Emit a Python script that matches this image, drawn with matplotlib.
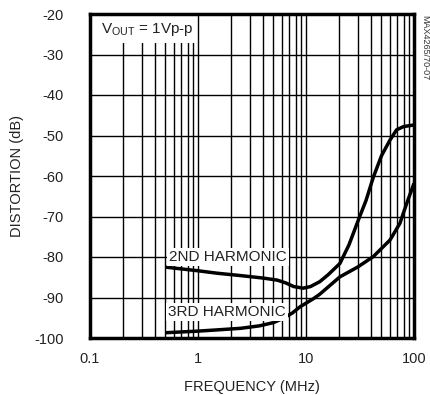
import numpy as np
import matplotlib
matplotlib.use("Agg")
import matplotlib.pyplot as plt
from matplotlib.patches import Rectangle

plt.rcParams['font.family'] = ['Liberation Sans', 'DejaVu Sans']
plt.rcParams['mathtext.fontset'] = 'custom'
plt.rcParams['mathtext.rm'] = 'Liberation Sans'

# 2nd harmonic distortion vs frequency
freq_h2 = [0.5, 1.0, 1.5, 2.5, 4.0, 5.4, 6.5, 7.7, 9.4, 11.0, 13.4, 16.0,
           20.6, 25.0, 30.5, 36.0, 42.0, 50.0, 60.0, 69.0, 80.0, 100.0]
dist_h2 = [-82.5, -83.4, -84.0, -84.6, -85.2, -85.7, -86.4, -87.3, -87.7, -87.3, -86.1, -84.4,
           -81.6, -77.0, -70.9, -66.0, -60.3, -55.0, -51.1, -48.6, -47.8, -47.4]

# 3rd harmonic distortion vs frequency
freq_h3 = [0.5, 1.0, 1.5, 2.5, 3.7, 5.0, 6.2, 7.5, 8.8, 11.7, 13.4, 20.6,
           30.0, 42.0, 60.0, 74.0, 85.0, 100.0]
dist_h3 = [-98.7, -98.3, -98.0, -97.6, -97.0, -96.2, -95.1, -93.8, -92.3, -90.3, -89.2, -84.9,
           -82.5, -79.9, -75.8, -71.7, -67.0, -61.8]

xticks = [0.1, 1, 10, 100]
xticklabels = ['0.1', '1', '10', '100']
yticks = list(range(-100, -19, 10))

fig = plt.figure(figsize=(4.3, 3.95), dpi=100)
ax = fig.add_axes([90/430, 1 - 338/395, 324/430, 324/395])

ax.set_xscale('log')
ax.set_xlim(0.1, 100)
ax.set_ylim(-100, -20)

ax.set_xticks(xticks)
ax.set_xticklabels(xticklabels)
ax.set_yticks(yticks)
ax.set_yticklabels([str(v) for v in yticks])
ax.xaxis.set_minor_locator(matplotlib.ticker.LogLocator(base=10, subs=np.arange(2, 10)))
ax.xaxis.set_minor_formatter(matplotlib.ticker.NullFormatter())
ax.tick_params(which='both', length=0, labelsize=10.5, colors='#222222')
ax.tick_params(axis='x', pad=10)
ax.tick_params(axis='y', pad=19)

ax.grid(True, which='major', axis='both', color='black', linewidth=1.0)
ax.grid(True, which='minor', axis='x', color='black', linewidth=1.0)
ax.set_axisbelow(True)
for s in ax.spines.values():
    s.set_linewidth(2.5)
    s.set_zorder(5)

ax.plot(freq_h2, dist_h2, color='black', linewidth=2.5, zorder=3, solid_capstyle='butt')
ax.plot(freq_h3, dist_h3, color='black', linewidth=2.5, zorder=3, solid_capstyle='butt')

box = dict(facecolor='white', edgecolor='none', pad=1.5)
ax.text(1.9, -80, '2ND HARMONIC', ha='center', va='center', fontsize=11,
        color='#222222', bbox=box, zorder=4)
ax.text(1.86, -93.6, '3RD HARMONIC', ha='center', va='center', fontsize=11,
        color='#222222', bbox=box, zorder=4)

ax.add_patch(Rectangle((0, 0.91), 0.325, 0.09, transform=ax.transAxes,
                       facecolor='white', edgecolor='none', zorder=4))
ax.text(0.035, 0.953, r'V$_{\mathrm{OUT}}$ = 1Vp-p', transform=ax.transAxes,
        ha='left', va='center', fontsize=11, color='#222222', zorder=6)

ax.set_xlabel('FREQUENCY (MHz)', fontsize=10.5, color='#222222', labelpad=10)
ax.set_ylabel('DISTORTION (dB)', fontsize=10.5, color='#222222', labelpad=7)

fig.text(425/430, 1 - 48/395, 'MAX4265/70-07', rotation=-90, ha='center', va='center',
         fontsize=6.5, color='#333333')

fig.savefig('out.png', dpi=100)
